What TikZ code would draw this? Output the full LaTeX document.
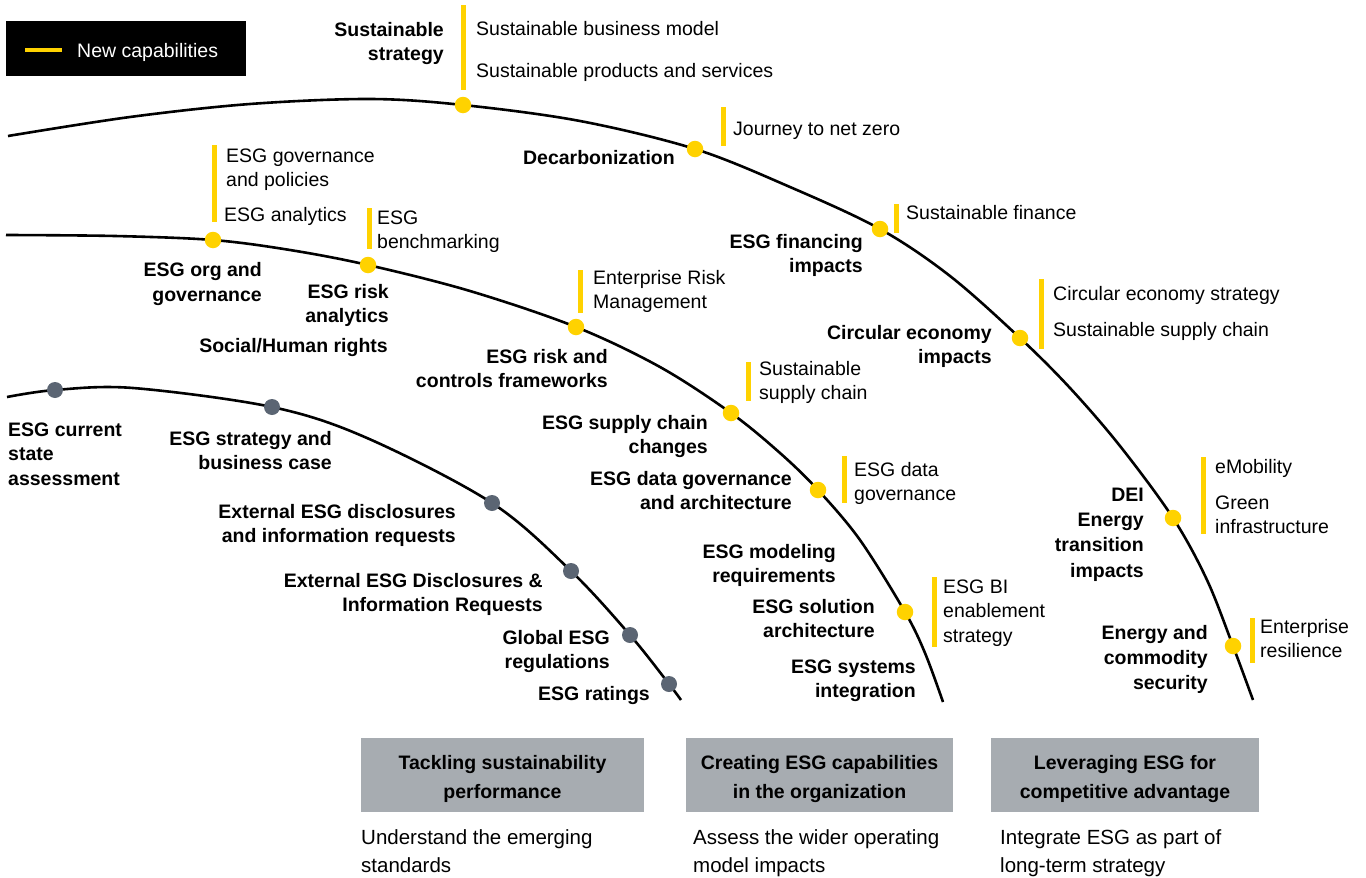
\documentclass[tikz,border=0pt]{standalone}
\usepackage{fontspec}
\setmainfont{Liberation Sans}
\definecolor{eyyellow}{HTML}{FFD200}
\definecolor{eyslate}{HTML}{5B6573}
\definecolor{panelgray}{HTML}{A7ACB1}
\begin{document}
\begin{tikzpicture}[x=1pt, y=-1pt,
  txt/.style={inner sep=0pt, font=\fontsize{19.5}{24.5}\selectfont},
  bold/.style={txt, font=\fontsize{19.5}{24.5}\selectfont\bfseries},
  tagR/.style={bold, align=right, anchor=base east},
  tagL/.style={bold, align=left, anchor=base west},
  newcap/.style={txt, align=left, anchor=base west},
  ydot/.style={circle, fill=eyyellow, minimum size=16.5pt, inner sep=0pt},
  sdot/.style={circle, fill=eyslate, minimum size=16pt, inner sep=0pt},
  capbar/.style={draw=eyyellow, line width=5pt},
  track/.style={draw=black, line width=2.6pt},
  panel/.style={fill=panelgray, minimum height=74pt, inner sep=0pt},
  paneltext/.style={inner sep=0pt, align=center, anchor=base, font=\fontsize{19.5}{29}\selectfont\bfseries},
  note/.style={inner sep=0pt, align=left, anchor=base west, font=\fontsize{20.5}{28}\selectfont}
]
\useasboundingbox (0,0) rectangle (1366,878);
% multi-line labels are placed by the baseline of their last line

% legend
\node[fill=black, minimum width=240pt, minimum height=55pt, inner sep=0pt] (legend) at (126,48.5) {};
\draw[draw=eyyellow, line width=4.5pt] (25,50) -- (62,50);
\node[txt, text=white, anchor=base west] (legendtext) at (77,57) {New capabilities};

% the three tracks
\draw[track] plot[smooth, tension=0.55] coordinates {
  (8,136) (130,117) (250,104) (370,99) (463,105) (580,121) (695,149)
  (790,187) (880,229) (950,276) (1020,338) (1070,388) (1120,446)
  (1173,518) (1207,580) (1233,646) (1253,700)};
\draw[track] plot[smooth, tension=0.55] coordinates {
  (6,235) (115,236) (213,240) (290,250) (368,265) (470,291) (576,327)
  (660,367) (731,413) (780,453) (818,490) (860,540) (905,612)
  (925,653) (943,702)};
\draw[track] plot[smooth, tension=0.55] coordinates {
  (7,397) (55,390) (133,388) (272,407) (367,438) (492,503) (571,571)
  (630,635) (669,684) (681,700)};

% outer track: leveraging ESG
\node[ydot] (o1) at (463,105) {};
\node[ydot] (o2) at (695,149) {};
\node[ydot] (o3) at (880,229) {};
\node[ydot] (o4) at (1020,338) {};
\node[ydot] (o5) at (1173,518) {};
\node[ydot] (o6) at (1233,646) {};

\draw[capbar] (463,5) -- (463,90);
\draw[capbar] (723,107) -- (723,146);
\draw[capbar] (896,204) -- (896,233);
\draw[capbar] (1041,279) -- (1041,349);
\draw[capbar] (1203,457) -- (1203,534);
\draw[capbar] (1252,618) -- (1252,663);

\node[tagR] (t-o1) at (444,60.5) {Sustainable\\strategy};
\node[newcap] (n-o1a) at (476,35) {Sustainable business model};
\node[newcap] (n-o1b) at (476,77) {Sustainable products and services};
\node[tagR] (t-o2) at (675,164) {Decarbonization};
\node[newcap] (n-o2) at (733,135) {Journey to net zero};
\node[tagR] (t-o3) at (863,272.5) {ESG financing\\impacts};
\node[newcap] (n-o3) at (906,219) {Sustainable finance};
\node[tagR] (t-o4) at (992,363.5) {Circular economy\\impacts};
\node[newcap] (n-o4a) at (1053,300) {Circular economy strategy};
\node[newcap] (n-o4b) at (1053,336) {Sustainable supply chain};
\node[tagR, font=\fontsize{19.5}{25.3}\selectfont\bfseries] (t-o5) at (1144,577) {DEI\\Energy\\transition\\impacts};
\node[newcap] (n-o5a) at (1215,473) {eMobility};
\node[newcap] (n-o5b) at (1215,533.5) {Green\\infrastructure};
\node[tagR, font=\fontsize{19.5}{25}\selectfont\bfseries] (t-o6) at (1208,689) {Energy and\\commodity\\security};
\node[newcap] (n-o6) at (1260,657.5) {Enterprise\\resilience};

% middle track: creating ESG capabilities
\node[ydot] (m1) at (213,240) {};
\node[ydot] (m2) at (368,265) {};
\node[ydot] (m3) at (576,327) {};
\node[ydot] (m4) at (731,413) {};
\node[ydot] (m5) at (818,490) {};
\node[ydot] (m6) at (905,612) {};

\draw[capbar] (214,145) -- (214,222);
\draw[capbar] (369,208) -- (369,249);
\draw[capbar] (580,270) -- (580,313);
\draw[capbar] (748,362) -- (748,401);
\draw[capbar] (844,456) -- (844,503);
\draw[capbar] (934,577) -- (934,647);

\node[newcap] (n-m1a) at (226,186.5) {ESG governance\\and policies};
\node[newcap] (n-m1b) at (224,221) {ESG analytics};
\node[tagR, font=\fontsize{19.5}{25}\selectfont\bfseries] (t-m1) at (262,301) {ESG org and\\governance};
\node[newcap] (n-m2) at (377,248.5) {ESG\\benchmarking};
\node[tagR] (t-m2) at (389,322.5) {ESG risk\\analytics};
\node[tagR] (t-m2b) at (388,352) {Social/Human rights};
\node[newcap] (n-m3) at (593,308.5) {Enterprise Risk\\Management};
\node[tagR] (t-m3) at (608,387.5) {ESG risk and\\controls frameworks};
\node[newcap] (n-m4) at (759,399.5) {Sustainable\\supply chain};
\node[tagR] (t-m4) at (708,453.5) {ESG supply chain\\changes};
\node[newcap] (n-m5) at (854,500.5) {ESG data\\governance};
\node[tagR] (t-m5) at (792,509.5) {ESG data governance\\and architecture};
\node[tagR] (t-m5b) at (836,582.5) {ESG modeling\\requirements};
\node[newcap] (n-m6) at (943,642) {ESG BI\\enablement\\strategy};
\node[tagR] (t-m6) at (875,637.5) {ESG solution\\architecture};
\node[tagR] (t-m7) at (916,697.5) {ESG systems\\integration};

% inner track: tackling sustainability performance
\node[sdot] (i1) at (55,390) {};
\node[sdot] (i2) at (272,407) {};
\node[sdot] (i3) at (492,503) {};
\node[sdot] (i4) at (571,571) {};
\node[sdot] (i5) at (630,635) {};
\node[sdot] (i6) at (669,684) {};

\node[tagL] (t-i1) at (8,485) {ESG current\\state\\assessment};
\node[tagR] (t-i2) at (332,469.5) {ESG strategy and\\business case};
\node[tagR] (t-i3) at (456,542.5) {External ESG disclosures\\and information requests};
\node[tagR] (t-i4) at (543,611.5) {External ESG Disclosures \&\\Information Requests};
\node[tagR] (t-i5) at (610,668.5) {Global ESG\\regulations};
\node[tagR] (t-i6) at (650,700) {ESG ratings};

% phase panels
\node[panel, minimum width=283pt] (p1) at (502.5,775) {};
\node[panel, minimum width=267pt] (p2) at (819.5,775) {};
\node[panel, minimum width=268pt] (p3) at (1125,775) {};
\node[paneltext] (p1t) at (502.5,798) {Tackling sustainability\\performance};
\node[paneltext] (p2t) at (819.5,798) {Creating ESG capabilities\\in the organization};
\node[paneltext] (p3t) at (1125,798) {Leveraging ESG for\\competitive advantage};

\node[note] (d1) at (361,872) {Understand the emerging\\standards};
\node[note] (d2) at (693,872) {Assess the wider operating\\model impacts};
\node[note] (d3) at (1000,872) {Integrate ESG as part of\\long-term strategy};
\end{tikzpicture}
\end{document}
